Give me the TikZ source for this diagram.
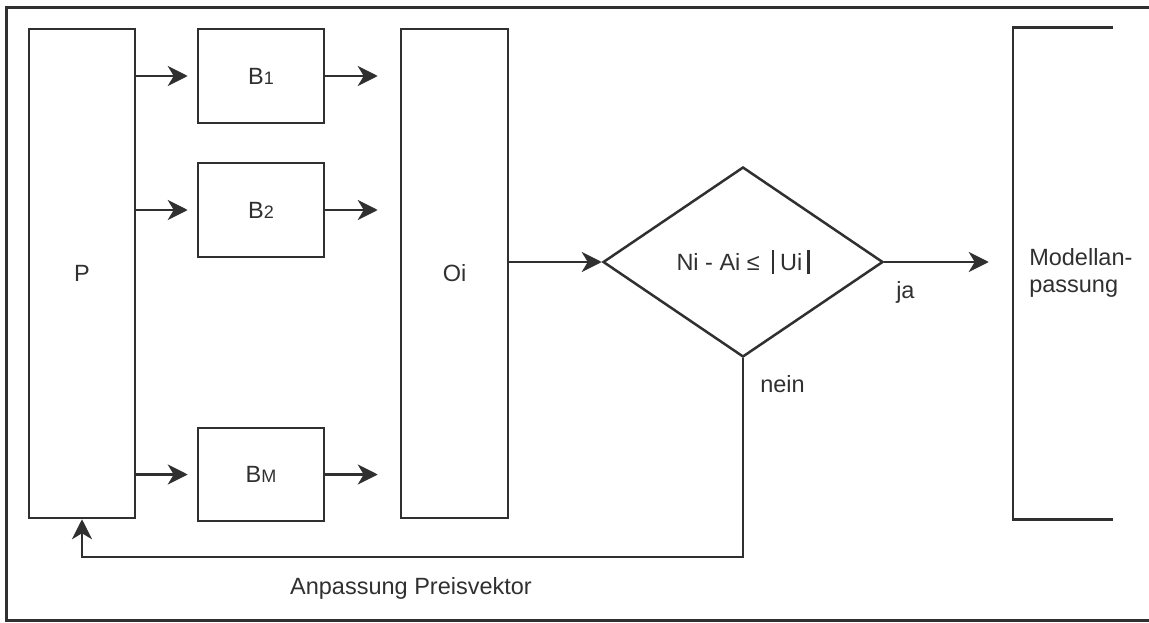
\documentclass[tikz,border=0pt]{standalone}
\usepackage{fontspec}
\setmainfont{Liberation Sans}
\newfontfamily\labfont{Liberation Sans}
\usetikzlibrary{shapes.geometric,arrows.meta,calc}
\definecolor{ink}{HTML}{303030}
\begin{document}
\begin{tikzpicture}[x=1pt,y=-1pt,
  line width=2.5pt, draw=ink,
  every node/.style={text=ink, font=\labfont\fontsize{23.5}{27}\selectfont},
  block/.style={draw=ink, rectangle, inner sep=0pt, line width=2.5pt},
  arr/.style={draw=ink, -{Stealth[length=20pt,width=20pt,inset=6pt]}},
  lab/.style={inner sep=0pt}
]
\newcommand{\sub}[1]{{\fontsize{18}{20}\selectfont #1}}
\newcommand{\vbar}{\rule[-4pt]{2.2pt}{24pt}}
\useasboundingbox (0,0) rectangle (1149,623);
% outer frame (open on the right)
\draw[line width=3pt] (1149,8) -- (6,8) -- (6,620) -- (1149,620);

% blocks
\node[block, minimum width=106pt, minimum height=489pt] (P) at (82,273.5) {P};
\node[block, minimum width=126pt, minimum height=94pt] (B1) at (261,76) {B\sub{1}};
\node[block, minimum width=126pt, minimum height=94pt] (B2) at (261,210) {B\sub{2}};
\node[block, minimum width=126pt, minimum height=93pt] (BM) at (261,474.5) {B\sub{M}};
\node[block, minimum width=107pt, minimum height=489pt] (O) at (454.5,273.5) {Oi};
\node[draw=ink, diamond, line width=2.5pt, minimum width=280pt, minimum height=190pt, inner sep=0pt] (D) at (743,262)
  {Ni - Ai ≤\kern12pt\vbar\kern6pt Ui\kern5pt\vbar};

% right-hand block, drawn as an open bracket
\node[inner sep=0pt, minimum width=98pt, minimum height=489pt] (M) at (1063,273.5) {};
\draw (M.north east) -- (M.north west) -- (M.south west) -- (M.south east);
\node[lab, anchor=west, align=left] at (1028,273) {Modellan-\\passung};

% connectors
\draw[arr, shorten >=9pt] (P.east |- B1.west) -- (B1.west);
\draw[arr, shorten >=9pt] (P.east |- B2.west) -- (B2.west);
\draw[arr, shorten >=9pt] (P.east |- BM.west) -- (BM.west);
\draw[arr, shorten >=22pt] (B1.east) -- (O.west |- B1.east);
\draw[arr, shorten >=22pt] (B2.east) -- (O.west |- B2.east);
\draw[arr, shorten >=22pt] (BM.east) -- (O.west |- BM.east);
\draw[arr] (O.east |- D.west) -- (D.west);
\draw[arr, shorten >=24pt] (D.east) -- (M.west |- D.east);
\coordinate (fb) at (743,557);
\draw[arr] (D.south) -- (fb) -| (P.south);

% labels
\node[lab, anchor=west] at (895,292) {ja};
\node[lab, anchor=west] at (759,384) {nein};
\node[lab] at (411,588) {Anpassung Preisvektor};
\end{tikzpicture}
\end{document}
